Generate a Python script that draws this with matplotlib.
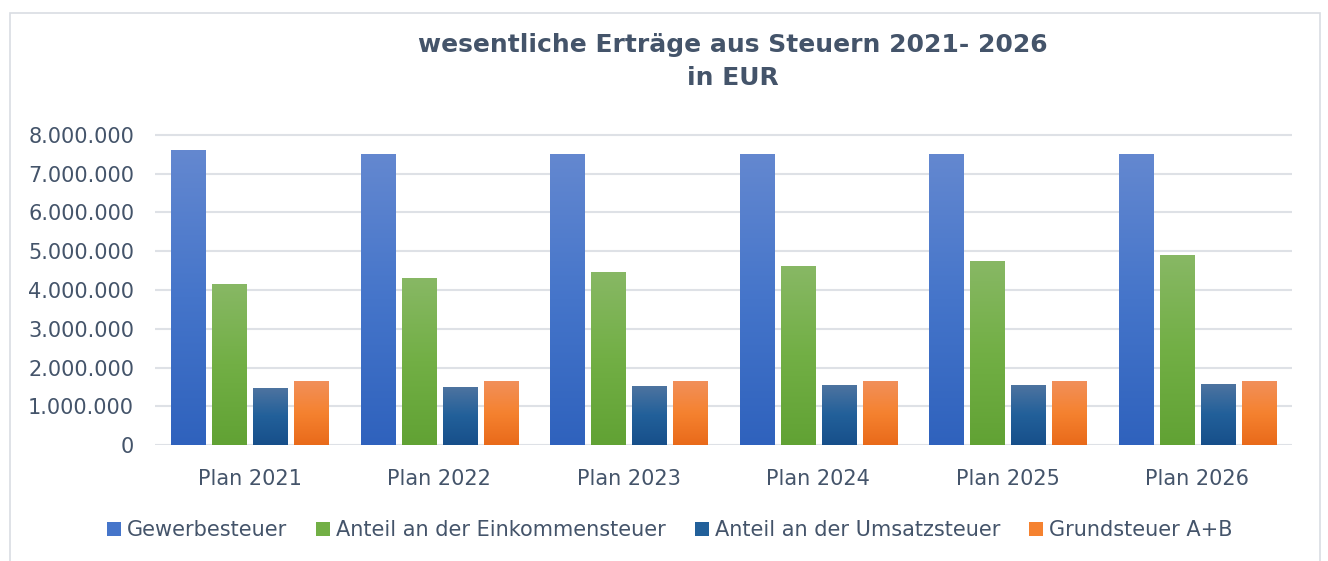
import numpy as np
import matplotlib.pyplot as plt
from matplotlib.patches import Patch, Rectangle
from matplotlib.colors import LinearSegmentedColormap
from matplotlib.ticker import FuncFormatter

categories = ['Plan 2021', 'Plan 2022', 'Plan 2023', 'Plan 2024', 'Plan 2025', 'Plan 2026']
series_names = ['Gewerbesteuer', 'Anteil an der Einkommensteuer',
                'Anteil an der Umsatzsteuer', 'Grundsteuer A+B']
gewerbesteuer = [7610000, 7510000, 7510000, 7510000, 7510000, 7510000]
einkommensteuer = [4160000, 4310000, 4470000, 4620000, 4750000, 4910000]
umsatzsteuer = [1480000, 1500000, 1520000, 1550000, 1550000, 1580000]
grundsteuer = [1660000, 1660000, 1660000, 1660000, 1660000, 1660000]

# gradient colours (top, middle, bottom) per series
grad_colors = [
    ['#6488D0', '#4575CA', '#2F62BD'],
    ['#88B865', '#72AF45', '#61A234'],
    ['#4F74A0', '#22609A', '#174F8A'],
    ['#F1905C', '#F58230', '#E96A1A'],
]
text_color = '#44546A'
grid_color = '#DEE1E6'

fig = plt.figure(figsize=(13.28, 5.61), dpi=100)
ax = fig.add_axes([155 / 1328, 1 - 445.3 / 561, 1137 / 1328, 314.5 / 561])

x = np.arange(len(categories))
bar_w = 0.18
step = 0.217
values = [gewerbesteuer, einkommensteuer, umsatzsteuer, grundsteuer]

for i, vals in enumerate(values):
    offs = (i - 1.5) * step
    bars = ax.bar(x + offs, vals, width=bar_w, color=grad_colors[i][1], zorder=2)
    cmap = LinearSegmentedColormap.from_list('g%d' % i, grad_colors[i][::-1])
    grad = np.linspace(0, 1, 256).reshape(-1, 1)
    for b in bars:
        bx, by = b.get_x(), b.get_y()
        bw, bh = b.get_width(), b.get_height()
        im = ax.imshow(grad, extent=[bx, bx + bw, by, by + bh], origin='lower',
                       aspect='auto', cmap=cmap, zorder=3)
        im.set_clip_path(b)

ax.set_xlim(-0.5, len(categories) - 0.5)
ax.set_ylim(0, 8.1e6)
ax.set_yticks(np.arange(0, 8000001, 1000000))
ax.yaxis.set_major_formatter(FuncFormatter(lambda v, p: f"{int(v):,}".replace(",", ".")))
ax.set_xticks(x)
ax.set_xticklabels(categories)
ax.tick_params(axis='both', length=0, labelsize=15, labelcolor=text_color)
ax.tick_params(axis='x', pad=17)
ax.tick_params(axis='y', pad=15)
ax.grid(axis='y', color=grid_color, linewidth=1.5, zorder=0)
ax.set_axisbelow(True)
for s in ax.spines.values():
    s.set_visible(False)

fig.text(733 / 1328, 1 - 45 / 561, 'wesentliche Erträge aus Steuern 2021- 2026',
         ha='center', va='center', fontsize=18, fontweight='bold', color=text_color)
fig.text(733 / 1328, 1 - 78 / 561, 'in EUR',
         ha='center', va='center', fontsize=18, fontweight='bold', color=text_color)

handles = [Patch(facecolor=c[1], label=n) for c, n in zip(grad_colors, series_names)]
fig.legend(handles=handles, loc='center', bbox_to_anchor=(670 / 1328, 1 - 530 / 561),
           ncol=4, frameon=False, fontsize=15, labelcolor=text_color,
           handlelength=0.65, handleheight=0.65, handletextpad=0.3, columnspacing=1.4)

fig.patches.append(Rectangle((10 / 1328, -0.02), 1310 / 1328, 1.02 - 13 / 561,
                             transform=fig.transFigure, fill=False,
                             edgecolor='#D9DDE3', linewidth=1.2))

fig.savefig('out.png', dpi=100)
